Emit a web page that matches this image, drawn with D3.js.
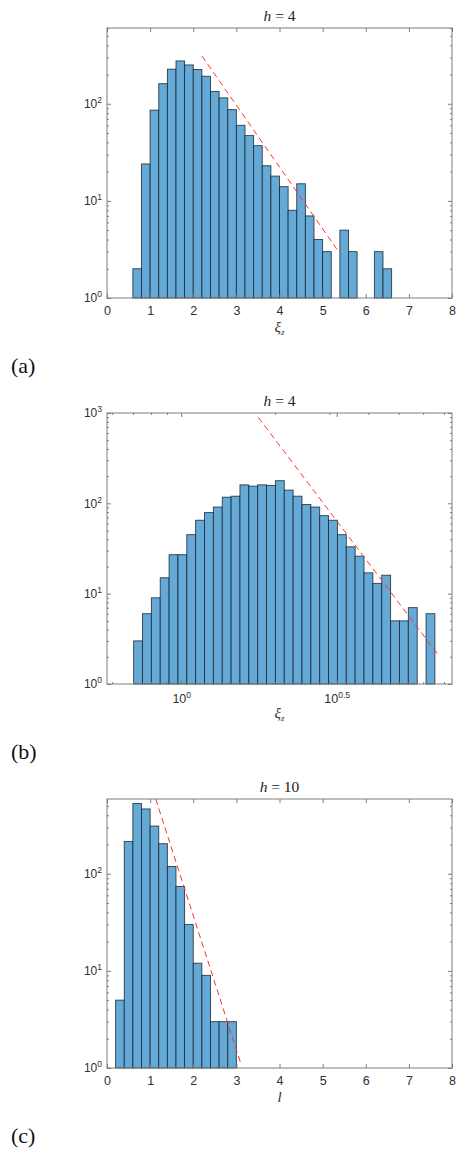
<!DOCTYPE html>
<html>
<head>
<meta charset="utf-8">
<script src="https://cdn.jsdelivr.net/npm/d3@7"></script>
<style>
  body { margin: 0; background: #fff; }
  .tick text { font-family: "Liberation Sans", Arial, sans-serif; fill: #303030; }
</style>
</head>
<body>
<svg id="fig" width="458" height="1150"></svg>
<script>
// ---- data ----
// (a) h = 4, histogram of xi_z, bins of 0.2 starting at 0.6
var binStartA = 0.6, binWidthA = 0.2;
var countsA = [2, 24, 86, 161, 227, 276, 251, 225, 192, 134, 115, 87, 60, 47, 37,
               23, 18, 14, 8, 15, 7, 4, 3, 0, 5, 3, 0, 0, 3, 2];
var fitAx = [2.2, 5.37], fitAy = [311, 3.0];

// (b) h = 4, log-binned xi_z (bin edges in log10 units)
var binLogStartB = -0.153, binLogWidthB = 0.0285;
var countsB = [3, 6, 9, 15, 27, 27, 45, 65, 79, 91, 117, 120, 160, 155, 160, 158, 178,
               140, 120, 97, 91, 73, 65, 45, 33, 26, 17, 13, 16, 5, 5, 7, 0, 6];
var fitBx = [1.77, 6.71], fitBy = [894, 2.1];

// (c) h = 10, histogram of l, bins of 0.2 starting at 0.2
var binStartC = 0.2, binWidthC = 0.2;
var countsC = [5, 215, 530, 465, 310, 204, 119, 74, 30, 12, 9, 3, 3, 3];
var fitCx = [1.13, 3.09], fitCy = [589, 1.16];

var linTicks = [0, 1, 2, 3, 4, 5, 6, 7, 8];
var logTicksB = [1, Math.pow(10, 0.5)];
var logTickExpB = ["0", "0.5"];
var logMinorB = [0.6, 0.7, 0.8, 0.9, 2, 3, 4, 5, 6, 7];

var svg = d3.select("#fig");
svg.append("rect").attr("width", 458).attr("height", 1150).attr("fill", "#fff");

var L = 107, R = 452;
var barFill = "#65a9d7", barStroke = "#17232c", axisCol = "#7c7c7c";

function decadeMinors(maxExp) {
  var out = [];
  for (var e = 0; e < maxExp; e++)
    for (var m = 2; m <= 9; m++) out.push(m * Math.pow(10, e));
  return out;
}

function panel(o) {
  var g = svg.append("g");
  var x = o.x, y = o.y;
  var top = y.range()[1], bot = y.range()[0];

  // bars
  g.append("g").selectAll("rect")
    .data(o.bars.filter(function (d) { return d.n > 0; }))
    .enter().append("rect")
    .attr("x", function (d) { return x(d.x0); })
    .attr("width", function (d) { return x(d.x1) - x(d.x0); })
    .attr("y", function (d) { return y(d.n); })
    .attr("height", function (d) { return y(1) - y(d.n); })
    .attr("fill", barFill).attr("stroke", barStroke).attr("stroke-width", 0.9)
    .attr("stroke-opacity", 0.85);

  // fit line
  var line = d3.line().x(function (d) { return x(d[0]); }).y(function (d) { return y(d[1]); });
  g.append("path").datum(d3.zip(o.fitX, o.fitY))
    .attr("d", line).attr("fill", "none").attr("stroke", "#ff3030")
    .attr("stroke-width", 1).attr("stroke-dasharray", "6,4");

  // x axes (inside ticks, top and bottom)
  var xb = d3.axisBottom(x).tickValues(o.xTicks).tickSize(-4).tickSizeOuter(0).tickPadding(8);
  if (o.xFormat) xb.tickFormat(o.xFormat);
  var gxb = g.append("g").attr("transform", "translate(0," + bot + ")").call(xb);
  g.append("g").attr("transform", "translate(0," + top + ")")
    .call(d3.axisTop(x).tickValues(o.xTicks).tickSize(-4).tickSizeOuter(0).tickFormat(""));
  if (o.xMinor) {
    g.append("g").attr("transform", "translate(0," + bot + ")")
      .call(d3.axisBottom(x).tickValues(o.xMinor).tickSize(-2).tickSizeOuter(0).tickFormat(""));
    g.append("g").attr("transform", "translate(0," + top + ")")
      .call(d3.axisTop(x).tickValues(o.xMinor).tickSize(-2).tickSizeOuter(0).tickFormat(""));
  }
  gxb.selectAll(".tick text").attr("font-size", 12.5);
  if (o.xExp) {
    gxb.selectAll(".tick text").text(null).each(function (d, i) {
      var t = d3.select(this);
      t.attr("dy", "0.71em").attr("y", 10);
      t.append("tspan").text("10");
      t.append("tspan").attr("font-size", 8.5).attr("dy", -5).text(o.xExp[i]);
    });
  }

  // y axes, log decades + minor ticks
  var yl = d3.axisLeft(y).tickValues(o.yTicks).tickSize(-4).tickSizeOuter(0).tickPadding(5);
  var gyl = g.append("g").attr("transform", "translate(" + L + ",0)").call(yl);
  g.append("g").attr("transform", "translate(" + R + ",0)")
    .call(d3.axisRight(y).tickValues(o.yTicks).tickSize(-4).tickSizeOuter(0).tickFormat(""));
  var ym = decadeMinors(o.yMaxExp).filter(function (v) { return y(v) >= top; });
  g.append("g").attr("transform", "translate(" + L + ",0)")
    .call(d3.axisLeft(y).tickValues(ym).tickSize(-2).tickSizeOuter(0).tickFormat(""));
  g.append("g").attr("transform", "translate(" + R + ",0)")
    .call(d3.axisRight(y).tickValues(ym).tickSize(-2).tickSizeOuter(0).tickFormat(""));
  gyl.selectAll(".tick text").text(null).attr("font-size", 12).each(function (d) {
    var t = d3.select(this);
    t.append("tspan").text("10");
    t.append("tspan").attr("font-size", 8.5).attr("dy", -5).text(Math.round(Math.log10(d)));
  });

  g.selectAll(".domain").remove();
  g.selectAll(".tick line").attr("stroke", axisCol);

  // box
  g.append("rect").attr("x", L).attr("y", top).attr("width", R - L).attr("height", bot - top)
    .attr("fill", "none").attr("stroke", axisCol).attr("stroke-width", 1);

  // title
  var tt = g.append("text").attr("x", (L + R) / 2).attr("y", top - 7)
    .attr("text-anchor", "middle").attr("font-family", "Liberation Serif, serif")
    .attr("font-size", 15.5).attr("fill", "#222");
  tt.append("tspan").attr("font-style", "italic").text("h");
  tt.append("tspan").text(" = " + o.h);

  // x label
  var xl = g.append("text").attr("x", (L + R) / 2).attr("y", bot + 34)
    .attr("text-anchor", "middle").attr("font-family", "Liberation Serif, serif")
    .attr("font-size", 15).attr("fill", "#333");
  xl.append("tspan").attr("font-style", "italic").text(o.xLabel);
  if (o.xSub) xl.append("tspan").attr("font-style", "italic").attr("font-size", 9).attr("dy", 3).text(o.xSub);

  // panel letter
  svg.append("text").attr("x", 11).attr("y", bot + 75)
    .attr("font-family", "Liberation Serif, serif").attr("font-size", 22).attr("fill", "#111")
    .text(o.letter);
}

function linBars(start, width, counts) {
  return counts.map(function (n, i) {
    return { x0: start + i * width, x1: start + (i + 1) * width, n: n };
  });
}

// (a)
panel({
  x: d3.scaleLinear().domain([0, 8]).range([L, R]),
  y: d3.scaleLog().domain([1, Math.pow(10, 2.78)]).range([298, 28]),
  bars: linBars(binStartA, binWidthA, countsA),
  fitX: fitAx, fitY: fitAy,
  xTicks: linTicks, yTicks: [1, 10, 100], yMaxExp: 3,
  h: 4, xLabel: "ξ", xSub: "z", letter: "(a)"
});

// (b)
panel({
  x: d3.scaleLog().domain([Math.pow(10, -0.2387), Math.pow(10, 0.871)]).range([L, R]),
  y: d3.scaleLog().domain([1, 1000]).range([684, 413]),
  bars: countsB.map(function (n, i) {
    return { x0: Math.pow(10, binLogStartB + i * binLogWidthB),
             x1: Math.pow(10, binLogStartB + (i + 1) * binLogWidthB), n: n };
  }),
  fitX: fitBx, fitY: fitBy,
  xTicks: logTicksB, xExp: logTickExpB, xMinor: logMinorB,
  xFormat: function () { return ""; },
  yTicks: [1, 10, 100, 1000], yMaxExp: 3,
  h: 4, xLabel: "ξ", xSub: "z", letter: "(b)"
});

// (c)
panel({
  x: d3.scaleLinear().domain([0, 8]).range([L, R]),
  y: d3.scaleLog().domain([1, Math.pow(10, 2.77)]).range([1068, 799]),
  bars: linBars(binStartC, binWidthC, countsC),
  fitX: fitCx, fitY: fitCy,
  xTicks: linTicks, yTicks: [1, 10, 100], yMaxExp: 3,
  h: 10, xLabel: "l", letter: "(c)"
});
</script>
</body>
</html>
